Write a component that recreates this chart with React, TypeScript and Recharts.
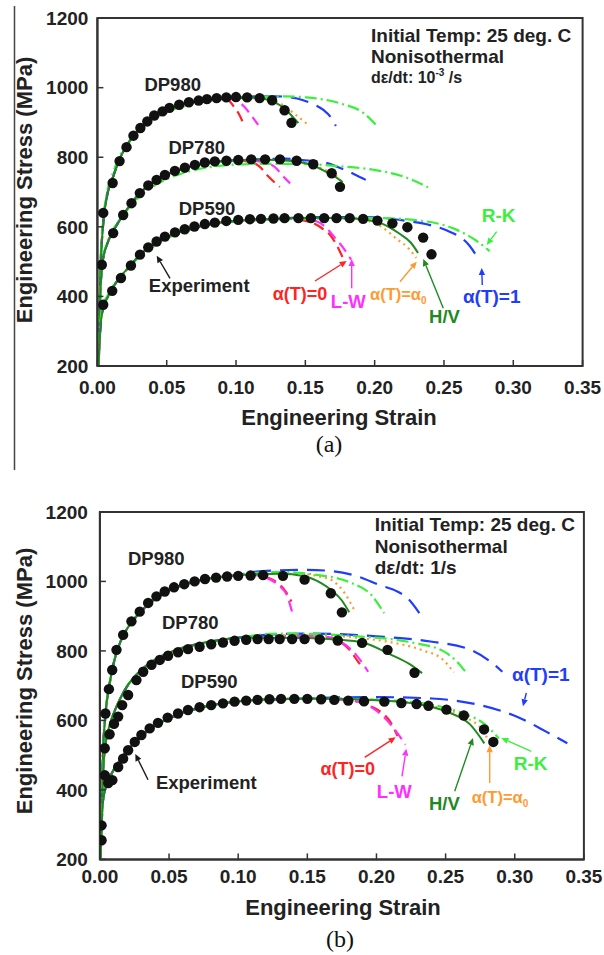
import React from 'react';
import { ComposedChart, Line, Scatter, XAxis, YAxis, ReferenceArea } from 'recharts';

type Pt = [number, number];

// ---------- shared axes ----------
const strainTicks = [0, 0.05, 0.1, 0.15, 0.2, 0.25, 0.3, 0.35];
const stressTicks = [200, 400, 600, 800, 1000, 1200];

// ================= (a) dε/dt = 10^-3 /s =================
// DP980
const a980Exp: Pt[] = [
  [0.0042, 640], [0.011, 726], [0.016, 789], [0.021, 829], [0.026, 862], [0.031, 884],
  [0.036, 903], [0.041, 920], [0.047, 932], [0.052, 942], [0.059, 951], [0.066, 958],
  [0.073, 963], [0.079, 967], [0.086, 970], [0.093, 972], [0.1, 973], [0.108, 972],
  [0.117, 970], [0.126, 964], [0.135, 935], [0.14, 899],
];
const a980Rise: Pt[] = [
  [0.0008, 200], [0.002, 450], [0.004, 600], [0.007, 690], [0.011, 740], [0.016, 795],
  [0.021, 832], [0.026, 862], [0.031, 884], [0.036, 902], [0.041, 918], [0.047, 931],
  [0.052, 940], [0.059, 949], [0.066, 956], [0.073, 961], [0.08, 965], [0.088, 968],
];
const a980Zero: Pt[] = [[0.094, 965], [0.0985, 945], [0.102, 925], [0.105, 900]];
const a980LW: Pt[] = [[0.095, 968], [0.101, 962], [0.106, 945], [0.111, 920], [0.116, 893]];
const a980Alpha0: Pt[] = [[0.1, 970], [0.115, 970], [0.126, 963], [0.134, 950], [0.143, 922], [0.149, 903], [0.153, 890]];
const a980HV: Pt[] = [[0.1, 970], [0.112, 971], [0.12, 968], [0.128, 958], [0.135, 940], [0.14, 920], [0.145, 898]];
const a980One: Pt[] = [[0.1, 972], [0.115, 975], [0.13, 975], [0.144, 969], [0.153, 957], [0.163, 936], [0.168, 917], [0.172, 890]];
const a980RK: Pt[] = [
  [0.0008, 200], [0.002, 470], [0.004, 610], [0.007, 700], [0.011, 752], [0.016, 803],
  [0.021, 835], [0.026, 860], [0.031, 880], [0.036, 897], [0.041, 911], [0.047, 924],
  [0.052, 933], [0.059, 943], [0.066, 951], [0.073, 957], [0.08, 962], [0.09, 967],
  [0.1, 970], [0.116, 974], [0.135, 975], [0.151, 972], [0.175, 955], [0.192, 927], [0.201, 893],
];

// DP780
const a780Exp: Pt[] = [
  [0.0032, 491], [0.0114, 582], [0.0186, 634], [0.0246, 668], [0.0306, 697], [0.0367, 719],
  [0.0427, 735], [0.0487, 749], [0.0559, 761], [0.0631, 770], [0.0703, 778], [0.0775, 785],
  [0.0847, 788], [0.0931, 790], [0.1016, 792], [0.111, 794], [0.121, 794], [0.1317, 794],
  [0.1437, 790], [0.1557, 780], [0.169, 754], [0.175, 715],
];
const a780Rise: Pt[] = [
  [0.0008, 200], [0.002, 400], [0.004, 505], [0.007, 550], [0.011, 585], [0.015, 612],
  [0.02, 642], [0.025, 670], [0.03, 694], [0.04, 727], [0.05, 750], [0.06, 765],
  [0.07, 776], [0.08, 784], [0.09, 789],
];
const a780Zero: Pt[] = [[0.1, 790], [0.108, 788], [0.113, 783], [0.117, 773], [0.123, 746], [0.128, 727], [0.1316, 715]];
const a780LW: Pt[] = [[0.1, 791], [0.115, 789], [0.122, 783], [0.128, 772], [0.132, 755], [0.135, 741], [0.139, 725]];
const a780Alpha0: Pt[] = [[0.1, 791], [0.12, 794], [0.14, 791], [0.153, 780], [0.16, 770], [0.168, 757], [0.175, 736], [0.178, 720]];
const a780HV: Pt[] = [[0.1, 791], [0.12, 793], [0.14, 789], [0.155, 777], [0.165, 758], [0.172, 743], [0.177, 728]];
const a780One: Pt[] = [[0.1, 792], [0.12, 795], [0.135, 796], [0.148, 792], [0.163, 786], [0.177, 766], [0.186, 750], [0.1936, 735]];
const a780RK: Pt[] = [
  [0.0008, 200], [0.002, 380], [0.004, 505], [0.007, 555], [0.011, 590], [0.015, 615],
  [0.02, 642], [0.03, 685], [0.04, 716], [0.05, 737], [0.06, 752], [0.07, 763],
  [0.08, 771], [0.0955, 778], [0.12, 781], [0.144, 781], [0.175, 774], [0.199, 764],
  [0.2205, 745], [0.2385, 714],
];

// DP590
const a590Exp: Pt[] = [
  [0.0042, 376], [0.0107, 416], [0.017, 453], [0.0242, 489], [0.0307, 520], [0.0367, 541],
  [0.0427, 558], [0.0487, 572], [0.056, 584], [0.063, 593], [0.07, 601], [0.0775, 608],
  [0.0847, 612], [0.093, 617], [0.1016, 620], [0.11, 622], [0.118, 623], [0.127, 624],
  [0.135, 625], [0.145, 625], [0.154, 625], [0.1636, 625], [0.1725, 625], [0.182, 625],
  [0.1917, 623], [0.202, 618], [0.2128, 610], [0.2236, 599], [0.235, 569], [0.241, 521],
];
const a590Rise: Pt[] = [
  [0.0008, 200], [0.002, 300], [0.004, 365], [0.007, 395], [0.011, 425], [0.017, 458],
  [0.024, 490], [0.03, 516], [0.04, 548], [0.05, 570], [0.06, 586], [0.07, 598],
  [0.08, 607], [0.09, 613], [0.1, 617], [0.11, 620], [0.12, 622], [0.13, 623],
];
const a590Zero: Pt[] = [[0.14, 623], [0.15, 617], [0.156, 610], [0.162, 596], [0.1676, 578], [0.172, 552], [0.1775, 507]];
const a590LW: Pt[] = [[0.14, 624], [0.15, 622], [0.158, 616], [0.165, 598], [0.171, 570], [0.178, 536], [0.183, 506]];
const a590Alpha0: Pt[] = [[0.14, 625], [0.16, 626], [0.175, 625], [0.1916, 620], [0.205, 600], [0.216, 565], [0.224, 540], [0.23, 511]];
const a590HV: Pt[] = [[0.14, 625], [0.16, 626], [0.1844, 624], [0.204, 611], [0.218, 580], [0.226, 555], [0.2313, 525]];
const a590One: Pt[] = [[0.14, 626], [0.16, 628], [0.18, 628], [0.2, 627], [0.223, 617], [0.24, 605], [0.2518, 590], [0.2686, 545], [0.2758, 501]];
const a590RK: Pt[] = [
  [0.0008, 200], [0.002, 320], [0.004, 375], [0.007, 400], [0.011, 428], [0.017, 458],
  [0.024, 488], [0.03, 512], [0.04, 544], [0.05, 567], [0.06, 583], [0.07, 595],
  [0.08, 604], [0.09, 611], [0.1, 615], [0.12, 620], [0.15, 623], [0.18, 625],
  [0.2037, 625], [0.2325, 618], [0.259, 592], [0.2734, 560], [0.283, 530],
];

// ================= (b) dε/dt = 1 /s =================
// DP980
const b980Exp: Pt[] = [
  [0.004, 620], [0.0065, 690], [0.0089, 745], [0.012, 803], [0.0168, 846], [0.0228, 885],
  [0.0288, 913], [0.0349, 938], [0.0409, 957], [0.0469, 971], [0.0536, 983], [0.061, 992],
  [0.0685, 1000], [0.076, 1007], [0.084, 1011], [0.092, 1014], [0.1, 1016], [0.109, 1017],
  [0.118, 1018], [0.1324, 1016], [0.148, 1005], [0.167, 966], [0.175, 911],
];
const b980Rise: Pt[] = [
  [0.0005, 200], [0.002, 480], [0.004, 615], [0.007, 705], [0.01, 765], [0.015, 828],
  [0.02, 866], [0.025, 893], [0.03, 915], [0.04, 950], [0.05, 974], [0.06, 990],
  [0.07, 1001], [0.08, 1009], [0.09, 1014], [0.1, 1018],
];
const b980Zero: Pt[] = [[0.11, 1019], [0.12, 1013], [0.128, 997], [0.134, 973], [0.1385, 942]];
const b980LW: Pt[] = [[0.11, 1019], [0.12, 1011], [0.13, 986], [0.135, 962], [0.1394, 906]];
const b980Alpha0: Pt[] = [[0.11, 1020], [0.13, 1022], [0.15, 1020], [0.16, 1013], [0.1684, 1002], [0.177, 966], [0.184, 917]];
const b980HV: Pt[] = [[0.11, 1020], [0.13, 1022], [0.148, 1015], [0.16, 995], [0.167, 976], [0.175, 945], [0.1803, 911]];
const b980One: Pt[] = [[0.11, 1027], [0.13, 1032], [0.15, 1033], [0.167, 1030], [0.186, 1015], [0.202, 990], [0.215, 971], [0.2213, 956], [0.231, 909]];
const b980RK: Pt[] = [[0.11, 1024], [0.13, 1027], [0.155, 1020], [0.1815, 996], [0.196, 962], [0.2055, 909]];

// DP780
const b780Exp: Pt[] = [
  [0.0035, 520], [0.007, 560], [0.0102, 590], [0.0132, 611], [0.0161, 644], [0.0204, 673],
  [0.0264, 716], [0.0313, 740], [0.0373, 760], [0.0433, 774], [0.0493, 786], [0.0565, 796],
  [0.0637, 805], [0.0721, 812], [0.0805, 819], [0.089, 824], [0.0974, 829], [0.1058, 832],
  [0.114, 834], [0.122, 834], [0.13, 834], [0.139, 834], [0.148, 834], [0.159, 833],
  [0.172, 830], [0.1896, 823], [0.208, 803], [0.2275, 737],
];
const b780Rise: Pt[] = [
  [0.0005, 200], [0.002, 430], [0.004, 530], [0.007, 585], [0.01, 620], [0.015, 665],
  [0.02, 700], [0.03, 745], [0.04, 775], [0.05, 795], [0.06, 809], [0.07, 819],
  [0.08, 827], [0.09, 833], [0.1, 838],
];
const b780Zero: Pt[] = [[0.12, 842], [0.15, 843], [0.165, 838], [0.173, 828], [0.181, 801], [0.1865, 770], [0.189, 757]];
const b780LW: Pt[] = [[0.12, 843], [0.15, 843], [0.165, 840], [0.1767, 820], [0.185, 790], [0.194, 740]];
const b780Alpha0: Pt[] = [[0.12, 844], [0.15, 845], [0.17, 843], [0.185, 838], [0.209, 826], [0.233, 802], [0.248, 775], [0.256, 738]];
const b780HV: Pt[] = [[0.12, 838], [0.15, 837], [0.17, 833], [0.191, 823], [0.21, 790], [0.224, 762], [0.233, 736]];
const b780One: Pt[] = [[0.12, 846], [0.15, 850], [0.2, 842], [0.239, 827], [0.268, 803], [0.284, 764], [0.291, 740]];
const b780RK: Pt[] = [[0.12, 848], [0.1334, 850], [0.186, 842], [0.2272, 823], [0.249, 798], [0.258, 770], [0.2651, 736]];

// DP590
const b590Exp: Pt[] = [
  [0.0012, 255], [0.0012, 298], [0.0036, 442], [0.006, 420], [0.009, 428], [0.0132, 466],
  [0.0168, 490], [0.0204, 514], [0.0252, 538], [0.03, 558], [0.036, 577], [0.042, 593],
  [0.049, 608], [0.0565, 620], [0.0637, 630], [0.0721, 638], [0.0805, 644], [0.089, 649],
  [0.0974, 654], [0.1058, 657], [0.114, 659], [0.1226, 661], [0.131, 662], [0.1406, 662],
  [0.15, 662], [0.16, 661], [0.1695, 659], [0.1796, 657], [0.191, 655], [0.2057, 654],
  [0.218, 650], [0.229, 647], [0.2376, 642], [0.2506, 631], [0.2632, 614], [0.2778, 574],
  [0.2845, 538],
];
const b590Rise: Pt[] = [
  [0.0005, 200], [0.002, 360], [0.004, 405], [0.007, 435], [0.01, 458], [0.015, 490],
  [0.02, 515], [0.03, 555], [0.04, 585], [0.05, 606], [0.06, 622], [0.07, 634],
  [0.08, 643], [0.09, 650], [0.1, 655], [0.12, 660], [0.14, 662],
];
const b590Zero: Pt[] = [[0.16, 663], [0.175, 660], [0.185, 655], [0.195, 642], [0.2045, 620], [0.21, 596], [0.2153, 555]];
const b590LW: Pt[] = [[0.16, 663], [0.175, 660], [0.183, 657], [0.193, 645], [0.203, 618], [0.212, 580], [0.221, 530]];
const b590Alpha0: Pt[] = [[0.16, 663], [0.2, 660], [0.22, 653], [0.244, 638], [0.263, 611], [0.2776, 567], [0.2805, 545]];
const b590HV: Pt[] = [[0.16, 663], [0.2, 658], [0.227, 649], [0.251, 625], [0.268, 587], [0.278, 534]];
const b590One: Pt[] = [[0.16, 665], [0.2, 667], [0.24, 663], [0.275, 644], [0.302, 610], [0.323, 567], [0.338, 534]];
const b590RK: Pt[] = [[0.16, 663], [0.22, 655], [0.25, 636], [0.265, 617], [0.278, 590], [0.2885, 548]];

// ---------- series styling ----------
type ModelKey = 'zero' | 'lw' | 'alpha0' | 'hv' | 'one' | 'rk';
const MODEL_STYLE: Record<ModelKey, { stroke: string; dash?: string; width: number }> = {
  zero: { stroke: '#ff2424', dash: '11 6', width: 2.2 },
  lw: { stroke: '#ff30ff', dash: '11 6', width: 2.2 },
  alpha0: { stroke: '#ff9a30', dash: '2 4', width: 2.2 },
  hv: { stroke: '#1f8a1f', width: 2 },
  one: { stroke: '#1f3cff', dash: '18 9', width: 2.2 },
  rk: { stroke: '#3af03a', dash: '12 4 2 4', width: 2.2 },
};
const MODEL_ORDER: ModelKey[] = ['zero', 'lw', 'alpha0', 'one', 'rk', 'hv'];

type Material = { exp: Pt[]; curves: Record<ModelKey, Pt[]> };

const toXY = (pts: Pt[]) => pts.map(([x, y]) => ({ x, y }));

const materialsA: Material[] = [
  {
    exp: a980Exp,
    curves: {
      zero: [...a980Rise, ...a980Zero], lw: [...a980Rise, ...a980LW],
      alpha0: [...a980Rise, ...a980Alpha0], hv: [...a980Rise, ...a980HV],
      one: [...a980Rise, ...a980One], rk: a980RK,
    },
  },
  {
    exp: a780Exp,
    curves: {
      zero: [...a780Rise, ...a780Zero], lw: [...a780Rise, ...a780LW],
      alpha0: [...a780Rise, ...a780Alpha0], hv: [...a780Rise, ...a780HV],
      one: [...a780Rise, ...a780One], rk: a780RK,
    },
  },
  {
    exp: a590Exp,
    curves: {
      zero: [...a590Rise, ...a590Zero], lw: [...a590Rise, ...a590LW],
      alpha0: [...a590Rise, ...a590Alpha0], hv: [...a590Rise, ...a590HV],
      one: [...a590Rise, ...a590One], rk: a590RK,
    },
  },
];

const materialsB: Material[] = [
  {
    exp: b980Exp,
    curves: {
      zero: [...b980Rise, ...b980Zero], lw: [...b980Rise, ...b980LW],
      alpha0: [...b980Rise, ...b980Alpha0], hv: [...b980Rise, ...b980HV],
      one: [...b980Rise, ...b980One], rk: [...b980Rise, ...b980RK],
    },
  },
  {
    exp: b780Exp,
    curves: {
      zero: [...b780Rise, ...b780Zero], lw: [...b780Rise, ...b780LW],
      alpha0: [...b780Rise, ...b780Alpha0], hv: [...b780Rise, ...b780HV],
      one: [...b780Rise, ...b780One], rk: [...b780Rise, ...b780RK],
    },
  },
  {
    exp: b590Exp,
    curves: {
      zero: [...b590Rise, ...b590Zero], lw: [...b590Rise, ...b590LW],
      alpha0: [...b590Rise, ...b590Alpha0], hv: [...b590Rise, ...b590HV],
      one: [...b590Rise, ...b590One], rk: [...b590Rise, ...b590RK],
    },
  },
];

const FONT = '"Liberation Sans", Arial, Helvetica, sans-serif';
const tickStyle = { fontFamily: FONT, fontWeight: 700, fontSize: 19, fill: '#222' };

const Dot = (props: any) => {
  const { cx, cy } = props;
  if (cx == null || cy == null) return <g />;
  return <circle cx={cx} cy={cy} r={5.2} fill="#111" />;
};

type PanelProps = {
  top: number;
  height: number;
  marginTop: number;
  marginRight: number;
  yWidth: number;
  xHeight: number;
  yTickMargin: number;
  xTickMargin: number;
  materials: Material[];
};

function Panel(p: PanelProps) {
  return (
    <div style={{ position: 'absolute', left: 0, top: p.top }}>
      <ComposedChart
        width={604}
        height={p.height}
        margin={{ top: p.marginTop, right: p.marginRight, bottom: 0, left: 0 }}
      >
        <XAxis
          dataKey="x"
          type="number"
          domain={[0, 0.35]}
          ticks={strainTicks}
          interval={0}
          allowDataOverflow
          height={p.xHeight}
          tickFormatter={(v: number) => v.toFixed(2)}
          tick={tickStyle}
          tickSize={-6}
          tickMargin={p.xTickMargin}
          axisLine={{ stroke: '#333', strokeWidth: 2 }}
          tickLine={{ stroke: '#333', strokeWidth: 1.5 }}
        />
        <YAxis
          dataKey="y"
          type="number"
          domain={[200, 1200]}
          ticks={stressTicks}
          interval={0}
          allowDataOverflow
          width={p.yWidth}
          tick={tickStyle}
          tickSize={-6}
          tickMargin={p.yTickMargin}
          axisLine={{ stroke: '#333', strokeWidth: 2 }}
          tickLine={{ stroke: '#333', strokeWidth: 1.5 }}
        />
        <ReferenceArea x1={0} x2={0.35} y1={200} y2={1200} fill="none" stroke="#333" strokeWidth={2} ifOverflow="visible" />
        {p.materials.map((m, i) => (
          <Scatter
            key={`exp-${i}`}
            data={toXY(m.exp)}
            dataKey="y"
            shape={Dot}
            isAnimationActive={false}
          />
        ))}
        {p.materials.flatMap((m, i) =>
          MODEL_ORDER.map((k) => (
            <Line
              key={`${k}-${i}`}
              data={toXY(m.curves[k])}
              dataKey="y"
              type="monotone"
              stroke={MODEL_STYLE[k].stroke}
              strokeWidth={MODEL_STYLE[k].width}
              strokeDasharray={MODEL_STYLE[k].dash}
              dot={false}
              activeDot={false}
              isAnimationActive={false}
            />
          ))
        )}
      </ComposedChart>
    </div>
  );
}

// ---------- annotation layer ----------
const COL = {
  zero: '#ff2424',
  lw: '#ff30ff',
  alpha0: '#ff9a30',
  hv: '#1f8a1f',
  one: '#1f3cff',
  rk: '#3af03a',
  ink: '#1a1a1a',
};

function Arrow({ x1, y1, x2, y2, color }: { x1: number; y1: number; x2: number; y2: number; color: string }) {
  const a = Math.atan2(y2 - y1, x2 - x1);
  const L = 7;
  const W = 3.2;
  const bx = x2 - L * Math.cos(a);
  const by = y2 - L * Math.sin(a);
  const px = -Math.sin(a) * W;
  const py = Math.cos(a) * W;
  return (
    <g>
      <line x1={x1} y1={y1} x2={bx} y2={by} stroke={color} strokeWidth={1.4} />
      <polygon points={`${x2},${y2} ${bx + px},${by + py} ${bx - px},${by - py}`} fill={color} />
    </g>
  );
}

const T = (props: any) => (
  <text fontFamily={FONT} fontWeight={700} textAnchor="middle" {...props} />
);

function Annotations() {
  return (
    <svg width={604} height={955} style={{ position: 'absolute', left: 0, top: 0, pointerEvents: 'none' }}>
      <line x1={14.5} y1={6} x2={14.5} y2={470} stroke="#444" strokeWidth={1.5} />

      {/* (a) */}
      <text x={32} y={190} transform="rotate(-90 32 190)" fontFamily={FONT} fontWeight={700} fontSize={22} textAnchor="middle" fill="#222">
        Engineering Stress (MPa)
      </text>
      <T x={339} y={425} fontSize={22} fill="#222">Engineering Strain</T>
      <text x={329} y={452} fontFamily='"Liberation Serif", "Times New Roman", serif' fontSize={24} textAnchor="middle" fill="#111">(a)</text>

      <T x={371} y={41.7} fontSize={19} textAnchor="start" fill="#222">Initial Temp: 25 deg. C</T>
      <T x={371} y={63.3} fontSize={19} textAnchor="start" fill="#222">Nonisothermal</T>
      <T x={371} y={83.3} fontSize={16} textAnchor="start" fill="#222">
        dε/dt: 10<tspan dy={-7} fontSize={10}>-3</tspan><tspan dy={7}> /s</tspan>
      </T>
      <T x={172.7} y={91} fontSize={18.5} fill="#222">DP980</T>
      <T x={196.7} y={154.3} fontSize={18.5} fill="#222">DP780</T>
      <T x={207} y={215} fontSize={18.5} fill="#222">DP590</T>
      <T x={199.2} y={292.3} fontSize={18.5} fill="#222">Experiment</T>
      <T x={300} y={300} fontSize={18} fill={COL.zero}>α(T)=0</T>
      <T x={348.3} y={307.7} fontSize={18.5} fill={COL.lw}>L-W</T>
      <T x={398.3} y={300} fontSize={16.5} fill={COL.alpha0}>
        α(T)=α<tspan dy={4} fontSize={10}>0</tspan>
      </T>
      <T x={444.5} y={323.3} fontSize={18.5} fill={COL.hv}>H/V</T>
      <T x={491.7} y={303.3} fontSize={19} fill={COL.one}>α(T)=1</T>
      <T x={498.7} y={222.3} fontSize={19} fill={COL.rk}>R-K</T>

      <Arrow x1={170} y1={278.3} x2={156.7} y2={255.7} color={COL.ink} />
      <Arrow x1={315} y1={281} x2={346.7} y2={261} color={COL.zero} />
      <Arrow x1={351.7} y1={288.3} x2={351.7} y2={259} color={COL.lw} />
      <Arrow x1={400} y1={281.7} x2={416.7} y2={261.7} color={COL.alpha0} />
      <Arrow x1={443.3} y1={308.3} x2={423.3} y2={259} color={COL.hv} />
      <Arrow x1={482.3} y1={285} x2={481.7} y2={268} color={COL.one} />
      <Arrow x1={496.7} y1={231.7} x2={486.7} y2={245} color={COL.rk} />

      {/* (b) */}
      <text x={32} y={681} transform="rotate(-90 32 681)" fontFamily={FONT} fontWeight={700} fontSize={22} textAnchor="middle" fill="#222">
        Engineering Stress (MPa)
      </text>
      <T x={343} y={914.5} fontSize={22} fill="#222">Engineering Strain</T>
      <text x={340} y={947} fontFamily='"Liberation Serif", "Times New Roman", serif' fontSize={24} textAnchor="middle" fill="#111">(b)</text>

      <T x={374.7} y={530.7} fontSize={19} textAnchor="start" fill="#222">Initial Temp: 25 deg. C</T>
      <T x={374.7} y={553} fontSize={19} textAnchor="start" fill="#222">Nonisothermal</T>
      <T x={374.7} y={574} fontSize={19} textAnchor="start" fill="#222">dε/dt: 1/s</T>
      <T x={156.3} y={565.3} fontSize={18.5} fill="#222">DP980</T>
      <T x={190.3} y={628.7} fontSize={18.5} fill="#222">DP780</T>
      <T x={209.3} y={688} fontSize={18.5} fill="#222">DP590</T>
      <T x={206.3} y={788.7} fontSize={18.5} fill="#222">Experiment</T>
      <T x={347.7} y={774.7} fontSize={18} fill={COL.zero}>α(T)=0</T>
      <T x={394.3} y={798} fontSize={18.5} fill={COL.lw}>L-W</T>
      <T x={444.3} y={809.7} fontSize={18.5} fill={COL.hv}>H/V</T>
      <T x={500} y={803} fontSize={16.5} fill={COL.alpha0}>
        α(T)=α<tspan dy={4} fontSize={10}>0</tspan>
      </T>
      <T x={530.7} y={769.7} fontSize={19} fill={COL.rk}>R-K</T>
      <T x={540.8} y={680.7} fontSize={19} fill={COL.one}>α(T)=1</T>

      <Arrow x1={148} y1={779.7} x2={135.3} y2={754} color={COL.ink} />
      <Arrow x1={364.7} y1={757.3} x2={395.7} y2={737.3} color={COL.zero} />
      <Arrow x1={402} y1={776.3} x2={406.3} y2={748.7} color={COL.lw} />
      <Arrow x1={454.7} y1={791.3} x2={473} y2={738} color={COL.hv} />
      <Arrow x1={489.7} y1={783} x2={489.7} y2={745.3} color={COL.alpha0} />
      <Arrow x1={531.3} y1={751.3} x2={501.3} y2={738} color={COL.rk} />
      <Arrow x1={526.3} y1={693} x2={523} y2={706.3} color={COL.one} />
    </svg>
  );
}

export default function App() {
  return (
    <div style={{ position: 'absolute', left: 0, top: 0, width: 604, height: 955, background: '#fff', overflow: 'hidden' }}>
      <Panel
        top={0}
        height={470}
        marginTop={18.1}
        marginRight={21.4}
        yWidth={97.4}
        xHeight={104}
        yTickMargin={15}
        xTickMargin={20.5}
        materials={materialsA}
      />
      <Panel
        top={490}
        height={465}
        marginTop={21.9}
        marginRight={20.1}
        yWidth={99.9}
        xHeight={95.6}
        yTickMargin={18}
        xTickMargin={16.5}
        materials={materialsB}
      />
      <Annotations />
    </div>
  );
}
